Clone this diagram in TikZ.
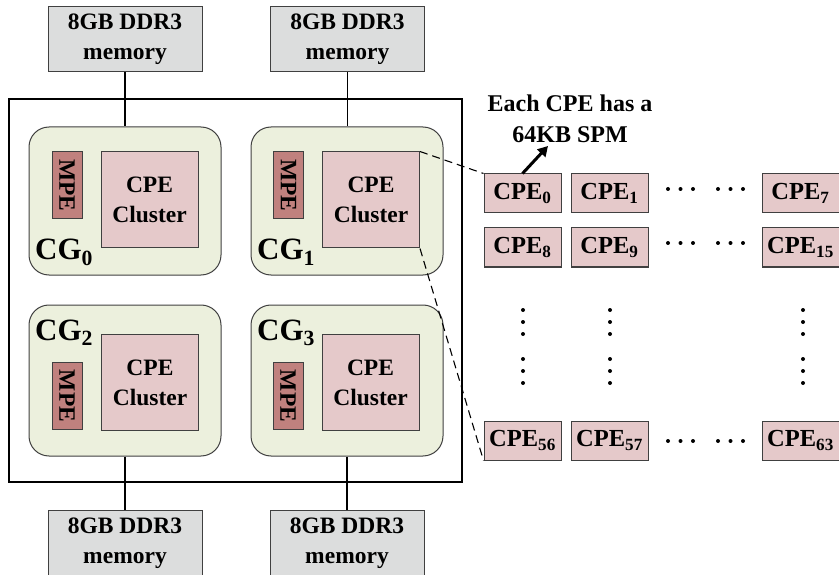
\documentclass[tikz,border=0pt]{standalone}
\usepackage{fontspec}
\setmainfont{Liberation Serif}
\usetikzlibrary{arrows.meta}
\definecolor{memgray}{HTML}{DCDDDD}
\definecolor{cgfill}{HTML}{ECF0DD}
\definecolor{clfill}{HTML}{E5C9CA}
\definecolor{mpefill}{HTML}{C0817E}
\definecolor{edgegray}{HTML}{404040}
\begin{document}
\begin{tikzpicture}[x=1pt,y=-1pt,
  txt/.style={font=\fontsize{23.5}{30}\selectfont\bfseries, align=center, inner sep=0pt},
  membox/.style={txt, draw=edgegray, fill=memgray, line width=1pt, minimum width=154pt, minimum height=65pt},
  cgbox/.style={draw=edgegray, fill=cgfill, line width=1pt, rounded corners=20pt, minimum width=192pt},
  clbox/.style={txt, draw=edgegray, fill=clfill, line width=1pt, minimum width=97pt, minimum height=96pt},
  mpebox/.style={txt, draw=edgegray, fill=mpefill, line width=1pt, rotate=-90, minimum width=67pt, minimum height=30pt},
  cgtag/.style={font=\fontsize{31}{31}\selectfont\bfseries, inner sep=0pt, anchor=base west},
  cpebox/.style={font=\fontsize{24.5}{28}\selectfont\bfseries, inner sep=0pt, draw=edgegray, fill=clfill, line width=1pt, minimum width=77pt, minimum height=39pt},
  wire/.style={line width=1.1pt, black},
  dashwire/.style={line width=1.1pt, black, dash pattern=on 8pt off 5pt},
  dotmark/.style={fill=black}
]
\useasboundingbox (0,0) rectangle (839,575);
\clip (0,0) rectangle (839,575);

% memory boxes
\node[membox] (mem0) at (125,39.5) {8GB DDR3\\memory};
\node[membox] (mem1) at (347.5,39.5) {8GB DDR3\\memory};
\node[membox] (mem2) at (125,543) {8GB DDR3\\memory};
\node[membox] (mem3) at (347,543) {8GB DDR3\\memory};

% chip outline
\node[draw=black, line width=1.2pt, minimum width=453pt, minimum height=383pt, inner sep=0pt] (chip) at (235.5,290.5) {};

% core groups
\node[cgbox, minimum height=148pt] (cg0) at (125,201) {};
\node[cgbox, minimum height=148pt] (cg1) at (347,201) {};
\node[cgbox, minimum height=151pt] (cg2) at (125,380.5) {};
\node[cgbox, minimum height=151pt] (cg3) at (347,380.5) {};

% memory links
\draw[wire] (mem0.south) -- (mem0.south |- cg0.north);
\draw[wire] (mem1.south) -- (mem1.south |- cg1.north);
\draw[wire] (cg2.south) -- (cg2.south |- mem2.north);
\draw[wire] (cg3.south) -- (cg3.south |- mem3.north);

% CPE clusters
\node[clbox] (cl0) at (149.5,200) {CPE\\Cluster};
\node[clbox] (cl1) at (371,200) {CPE\\Cluster};
\node[clbox] (cl2) at (150,382.5) {CPE\\Cluster};
\node[clbox] (cl3) at (370.5,382.5) {CPE\\Cluster};

% MPEs
\node[mpebox] (mpe0) at (67,185.5) {MPE};
\node[mpebox] (mpe1) at (288.5,185.5) {MPE};
\node[mpebox] (mpe2) at (67,396) {MPE};
\node[mpebox] (mpe3) at (288,396) {MPE};

% CG labels
\node[cgtag] (tag0) at (35,260) {CG\textsubscript{0}};
\node[cgtag] (tag1) at (257,260) {CG\textsubscript{1}};
\node[cgtag] (tag2) at (35,340) {CG\textsubscript{2}};
\node[cgtag] (tag3) at (257,340) {CG\textsubscript{3}};

% CPE array
\node[cpebox] (p0) at (522.5,193.5) {CPE\textsubscript{0}};
\node[cpebox] (p1) at (609.5,193.5) {CPE\textsubscript{1}};
\node[cpebox] (p7) at (800.5,193.5) {CPE\textsubscript{7}};
\node[cpebox] (p8) at (522.5,247.5) {CPE\textsubscript{8}};
\node[cpebox] (p9) at (609.5,247.5) {CPE\textsubscript{9}};
\node[cpebox] (p15) at (800.5,247.5) {CPE\textsubscript{15}};
\node[cpebox] (p56) at (522.5,440.5) {CPE\textsubscript{56}};
\node[cpebox] (p57) at (609.5,440.5) {CPE\textsubscript{57}};
\node[cpebox] (p63) at (800.5,440.5) {CPE\textsubscript{63}};

% horizontal ellipses
\foreach \yy in {189,243,441}{
  \foreach \xx in {668,680.5,693,718,730.5,743}{
    \fill[dotmark] (\xx,\yy) circle (2pt);
  }
}
% vertical ellipses
\foreach \xx in {523,610,803}{
  \foreach \yy in {310,322,334,359,371,383}{
    \fill[dotmark] (\xx,\yy) circle (2pt);
  }
}

% zoom lines
\draw[dashwire] (cl1.north east) -- (p0.north west);
\draw[dashwire] (cl1.south east) -- (p56.south west);

% SPM note
\node[txt, font=\fontsize{24}{31}\selectfont\bfseries] (note) at (570,119) {Each CPE has a\\64KB SPM};
\coordinate (notetip) at (548,146);
\draw[line width=3pt, -{Triangle[length=10pt,width=11pt]}] (p0.north) -- (notetip);
\end{tikzpicture}
\end{document}
